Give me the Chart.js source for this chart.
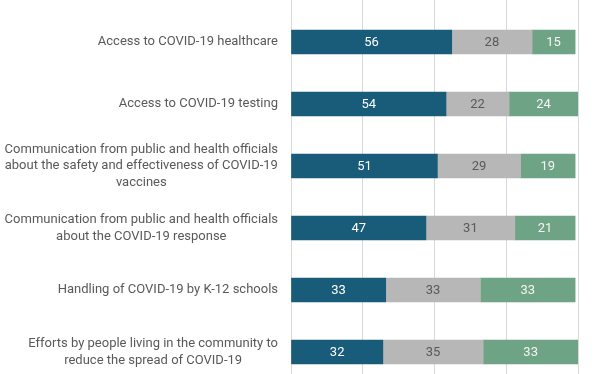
<!DOCTYPE html>
<html>
<head>
<meta charset="utf-8">
<script src="https://cdn.jsdelivr.net/npm/chart.js@4.4.1/dist/chart.umd.min.js"></script>
<style>
  html, body { margin: 0; padding: 0; background: #fff; overflow: hidden; }
  #wrap { width: 612px; height: 390px; }
</style>
</head>
<body>
<div id="wrap"><canvas id="myChart" width="612" height="390"></canvas></div>
<script>
// categories (each one split into its lines, as in the picture)
var categories = [
    ['Access to COVID-19 healthcare'],
    ['Access to COVID-19 testing'],
    ['Communication from public and health officials', 'about the safety and effectiveness of COVID-19', 'vaccines'],
    ['Communication from public and health officials', 'about the COVID-19 response'],
    ['Handling of COVID-19 by K-12 schools'],
    ['Efforts by people living in the community to', 'reduce the spread of COVID-19']
];
var seriesA = [56, 54, 51, 47, 33, 32];
var seriesB = [28, 22, 29, 31, 33, 35];
var seriesC = [15, 24, 19, 21, 33, 33];
var xTicks = [0, 25, 50, 75, 100];

var textGrey = '#595959';

// value labels in the middle of each segment
var segmentLabels = {
    id: 'segmentLabels',
    afterDatasetsDraw: function (chart) {
        var ctx = chart.ctx;
        ctx.save();
        ctx.font = '13px Roboto';
        ctx.textAlign = 'center';
        ctx.textBaseline = 'middle';
        chart.data.datasets.forEach(function (ds, i) {
            var meta = chart.getDatasetMeta(i);
            meta.data.forEach(function (bar, j) {
                ctx.fillStyle = ds.labelColor;
                ctx.fillText(ds.data[j], (bar.x + bar.base) / 2, bar.y + 1);
            });
        });
        ctx.restore();
    }
};

// category labels: block sits against the axis, its lines centred
var categoryLabels = {
    id: 'categoryLabels',
    afterDraw: function (chart) {
        var ctx = chart.ctx;
        var yScale = chart.scales.y;
        var right = chart.chartArea.left - 13;
        var lineH = 16.5;
        ctx.save();
        ctx.font = '13px Roboto';
        ctx.fillStyle = textGrey;
        ctx.textAlign = 'center';
        ctx.textBaseline = 'middle';
        categories.forEach(function (lines, i) {
            var w = 0;
            lines.forEach(function (l) { w = Math.max(w, ctx.measureText(l).width); });
            var cx = right - w / 2;
            var cy = yScale.getPixelForValue(i);
            var y0 = cy - (lines.length - 1) * lineH / 2;
            lines.forEach(function (l, k) {
                ctx.fillText(l, cx, y0 + k * lineH);
            });
        });
        ctx.restore();
    }
};

var ctx = document.getElementById('myChart').getContext('2d');
var chart = new Chart(ctx, {
    type: 'bar',
    data: {
        labels: categories,
        datasets: [
            { data: seriesA, backgroundColor: '#185c7a', labelColor: '#ffffff' },
            { data: seriesB, backgroundColor: '#b7b7b7', labelColor: textGrey },
            { data: seriesC, backgroundColor: '#6fa386', labelColor: '#f4f4f4' }
        ]
    },
    options: {
        indexAxis: 'y',
        responsive: false,
        animation: false,
        barThickness: 24,
        layout: { padding: { top: 0, right: 34, bottom: 7, left: 0 } },
        plugins: { legend: { display: false }, tooltip: { enabled: false } },
        scales: {
            x: {
                position: 'top',
                stacked: true,
                min: 0,
                max: 100,
                afterBuildTicks: function (scale) {
                    scale.ticks = xTicks.map(function (v) { return { value: v }; });
                },
                afterFit: function (scale) { scale.height = 11; },
                ticks: { display: false },
                grid: { color: '#d9d9d9', lineWidth: 1, tickLength: 11, drawTicks: true },
                border: { display: false }
            },
            y: {
                stacked: true,
                afterFit: function (scale) { scale.width = 291; },
                ticks: { display: false },
                grid: { display: false },
                border: { display: false }
            }
        }
    },
    plugins: [segmentLabels, categoryLabels]
});
</script>
</body>
</html>
